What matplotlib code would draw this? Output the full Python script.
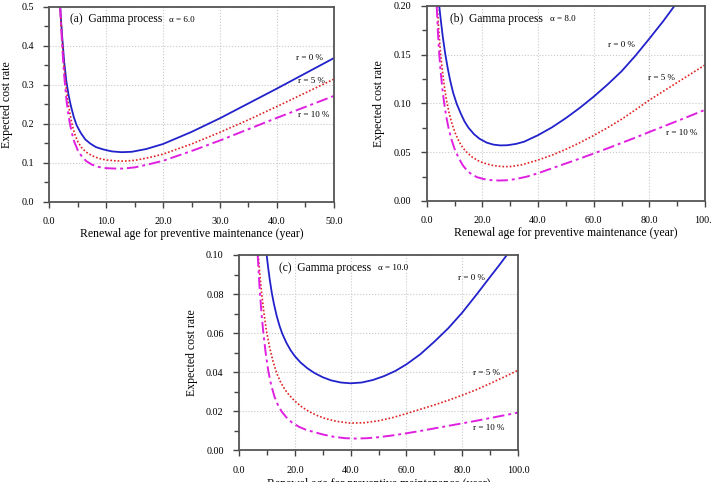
import numpy as np
import matplotlib
matplotlib.use("Agg")
import matplotlib.pyplot as plt
from matplotlib.ticker import MultipleLocator, FormatStrFormatter

plt.rcParams['font.family'] = ['Liberation Serif', 'DejaVu Serif']

# (a) alpha = 6.0, x 0-50
a_x0 = [1.9, 2.1, 2.3, 2.6, 3.0, 3.4, 3.8, 4.3, 4.8, 5.5, 6.3, 7.2, 8.2, 9.5, 11, 12.7, 14.5, 17, 20, 25, 30, 35, 40, 45, 50]
a_y0 = [0.500, 0.455, 0.415, 0.360, 0.308, 0.272, 0.245, 0.217, 0.196, 0.177, 0.160, 0.149, 0.140, 0.134, 0.129, 0.127, 0.128, 0.135, 0.148, 0.179, 0.214, 0.252, 0.290, 0.329, 0.368]
a_x5 = [1.9, 2.1, 2.3, 2.6, 3.0, 3.4, 3.9, 4.4, 5.0, 5.7, 6.5, 7.5, 8.7, 10, 11.5, 13, 15, 17.5, 20, 25, 30, 35, 40, 45, 50]
a_y5 = [0.500, 0.450, 0.405, 0.345, 0.286, 0.245, 0.204, 0.176, 0.154, 0.138, 0.127, 0.118, 0.111, 0.107, 0.105, 0.104, 0.106, 0.113, 0.122, 0.148, 0.178, 0.210, 0.244, 0.279, 0.314]
a_x10 = [1.9, 2.1, 2.3, 2.6, 3.0, 3.3, 3.6, 4.0, 4.4, 5.0, 5.7, 6.5, 7.5, 8.7, 10, 11.5, 13, 15, 17.5, 20, 25, 30, 35, 40, 45, 50]
a_y10 = [0.500, 0.440, 0.390, 0.325, 0.262, 0.228, 0.201, 0.174, 0.153, 0.132, 0.116, 0.104, 0.095, 0.089, 0.086, 0.085, 0.085, 0.088, 0.096, 0.105, 0.130, 0.157, 0.186, 0.215, 0.243, 0.271]

# (b) alpha = 8.0, x 0-100
b_x0 = [4.5, 5.0, 5.8, 6.6, 7.5, 8.4, 9.5, 10.8, 12.2, 13.6, 15, 17, 19, 21.6, 24, 26.5, 29, 32, 35, 40, 45, 50, 55, 60, 65, 70, 75, 80, 85, 89]
b_y0 = [0.200, 0.187, 0.168, 0.152, 0.137, 0.124, 0.111, 0.0995, 0.090, 0.0815, 0.0752, 0.0685, 0.0638, 0.0598, 0.0578, 0.0570, 0.0572, 0.0585, 0.0608, 0.0675, 0.0755, 0.0850, 0.0955, 0.1070, 0.1195, 0.1330, 0.1490, 0.1665, 0.1845, 0.2000]
b_x5 = [3.8, 4.2, 4.6, 5.0, 5.5, 6.0, 6.6, 7.2, 8.0, 9.0, 10.2, 11.6, 13.0, 14.4, 16.5, 19, 21.6, 24, 27, 30, 34, 40, 45, 50, 55, 60, 65, 70, 75, 80, 85, 90, 95, 100]
b_y5 = [0.200, 0.181, 0.165, 0.151, 0.137, 0.125, 0.1125, 0.102, 0.091, 0.080, 0.070, 0.061, 0.0545, 0.0500, 0.0447, 0.0405, 0.0380, 0.0363, 0.0353, 0.0353, 0.0370, 0.0420, 0.0470, 0.0530, 0.0598, 0.0672, 0.0752, 0.0838, 0.0935, 0.1035, 0.1125, 0.1215, 0.1305, 0.1395]
b_x10 = [3.6, 4.0, 4.5, 5.0, 5.6, 6.2, 7.0, 7.8, 8.8, 10.0, 11.5, 13.0, 14.5, 16, 18, 20.5, 23, 26, 29, 32, 36, 40, 45, 50, 55, 60, 65, 70, 75, 80, 85, 90, 95, 100]
b_y10 = [0.200, 0.175, 0.151, 0.133, 0.116, 0.102, 0.087, 0.0755, 0.064, 0.0535, 0.0440, 0.0365, 0.0312, 0.0277, 0.0245, 0.0225, 0.0214, 0.0210, 0.0213, 0.0225, 0.0250, 0.0285, 0.0335, 0.0385, 0.0435, 0.0487, 0.0540, 0.0595, 0.0650, 0.0708, 0.0764, 0.0820, 0.0877, 0.0935]

# (c) alpha = 10.0, x 0-100
c_x0 = [9.9, 10.4, 11.0, 11.7, 12.5, 13.5, 14.5, 15.5, 17, 18.5, 20, 22, 24.5, 27, 30, 33, 36.5, 40, 44, 48, 52, 56, 60, 65, 70, 75, 80, 85, 90, 93, 96]
c_y0 = [0.100, 0.094, 0.0875, 0.0810, 0.0750, 0.0688, 0.0638, 0.0597, 0.0550, 0.0512, 0.0482, 0.0450, 0.0420, 0.0396, 0.0374, 0.0358, 0.0347, 0.0343, 0.0347, 0.0360, 0.0380, 0.0406, 0.0440, 0.0492, 0.0556, 0.0625, 0.0705, 0.0795, 0.0888, 0.0943, 0.1000]
c_x5 = [6.9, 7.4, 8.1, 9.0, 9.9, 11, 12.2, 13.5, 15, 16.5, 18, 20, 22.5, 25, 28, 31, 35, 40, 45, 50, 55, 60, 65, 70, 75, 80, 85, 90, 95, 100]
c_y5 = [0.100, 0.091, 0.0805, 0.0695, 0.0605, 0.0525, 0.0455, 0.0395, 0.0346, 0.0310, 0.0282, 0.0252, 0.0222, 0.0199, 0.0178, 0.0162, 0.0148, 0.0139, 0.0141, 0.0151, 0.0167, 0.0188, 0.0210, 0.0232, 0.0256, 0.0282, 0.0310, 0.0342, 0.0375, 0.0410]
c_x10 = [6.7, 7.1, 7.5, 8.1, 8.7, 9.5, 10.5, 11.5, 12.7, 14, 15.3, 17, 19, 21.5, 24, 27, 30, 34, 38, 42, 46, 50, 55, 60, 65, 70, 75, 80, 85, 90, 95, 100]
c_y10 = [0.100, 0.0895, 0.0805, 0.0695, 0.0605, 0.0505, 0.0405, 0.0335, 0.0275, 0.0230, 0.0198, 0.0168, 0.0142, 0.0120, 0.0105, 0.0093, 0.0081, 0.0069, 0.0062, 0.0060, 0.0062, 0.0067, 0.0076, 0.0087, 0.0099, 0.0112, 0.0125, 0.0138, 0.0151, 0.0165, 0.0179, 0.0193]

r_labels = ['r = 0 %', 'r = 5 %', 'r = 10 %']

fig = plt.figure(figsize=(7.12, 4.82), dpi=100)
ax_a = fig.add_axes([0.0693, 0.5815, 0.3994, 0.4046])
ax_b = fig.add_axes([0.5993, 0.583, 0.3909, 0.4046])
ax_c = fig.add_axes([0.3357, 0.0658, 0.3919, 0.4052])

panels = [
    (ax_a, [(a_x0, a_y0), (a_x5, a_y5), (a_x10, a_y10)], 50, 0.5, 10, 5, 0.1, 0.05, '%.1f',
     '(a)', '6.0', 0.073, 1.5, [(45.8, 0.368), (46.1, 0.309), (46.4, 0.222)]),
    (ax_b, [(b_x0, b_y0), (b_x5, b_y5), (b_x10, b_y10)], 100, 0.2, 20, 10, 0.05, 0.025, '%.2f',
     '(b)', '8.0', 0.084, 1.5, [(70.1, 0.160), (84.4, 0.126), (91.6, 0.070)]),
    (ax_c, [(c_x0, c_y0), (c_x5, c_y5), (c_x10, c_y10)], 100, 0.1, 20, 10, 0.02, 0.01, '%.2f',
     '(c)', '10.0', 0.143, 2.5, [(83.4, 0.088), (88.8, 0.0394), (89.4, 0.0113)]),
]

styles = [dict(color='#2222cc', ls='-', lw=1.3),
          dict(color='#e02222', ls=(0, (1, 1.2)), lw=1.2),
          dict(color='#e020e0', ls=(0, (6, 2, 1.5, 2)), lw=1.4)]

for ax, series, xmax, ymax, xmaj, xmin, ymaj, ymin, yfmt, tag, alpha, tx, xpad, lab_pos in panels:
    for (xs, ys), st in zip(series, styles):
        ax.plot(xs, ys, **st)
    ax.set_xlim(0, xmax)
    ax.set_ylim(0, ymax)
    ax.xaxis.set_major_locator(MultipleLocator(xmaj))
    ax.xaxis.set_minor_locator(MultipleLocator(xmin))
    ax.yaxis.set_major_locator(MultipleLocator(ymaj))
    ax.yaxis.set_minor_locator(MultipleLocator(ymin))
    ax.xaxis.set_major_formatter(FormatStrFormatter('%.1f'))
    ax.yaxis.set_major_formatter(FormatStrFormatter(yfmt))
    ax.tick_params(which='major', direction='out', length=4, width=1, pad=7, labelsize=7.3, color='#444444')
    ax.tick_params(which='minor', direction='out', length=3.5, width=1, color='#444444')
    ax.tick_params(axis='y', which='major', pad=7)
    ax.grid(True, which='major', ls=':', color='#c8c8c8', lw=0.8)
    for sp in ax.spines.values():
        sp.set_color('#555555')
        sp.set_linewidth(1.3)
    ax.set_xlabel('Renewal age for preventive maintenance (year)', fontsize=8.5, labelpad=xpad)
    ax.set_ylabel('Expected cost rate', fontsize=8.5, labelpad=6)
    t = ax.text(tx, 0.935, tag + '  Gamma process', transform=ax.transAxes, fontsize=8.3, va='center')
    ax.annotate('α = ' + alpha, xy=(1, 0.45), xycoords=t, xytext=(5, 0),
                textcoords='offset points', fontsize=6.5, va='center')
    for (lx, ly), lab in zip(lab_pos, r_labels):
        ax.text(lx, ly, lab, fontsize=6.5, ha='center', va='center')

fig.savefig('out.png', dpi=100)
